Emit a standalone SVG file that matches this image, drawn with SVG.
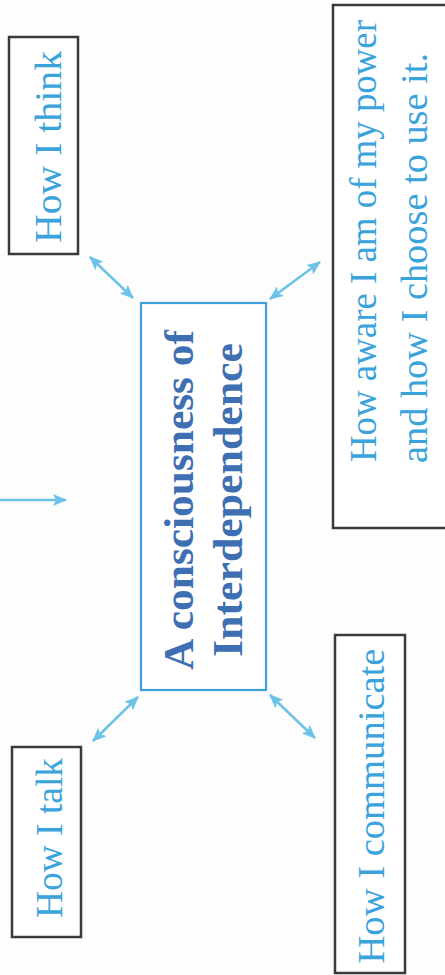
<svg xmlns="http://www.w3.org/2000/svg" width="445" height="975" viewBox="0 0 445 975">
<defs>
<marker id="ah" viewBox="0 0 14 12" refX="13" refY="6" markerWidth="14" markerHeight="12" markerUnits="userSpaceOnUse" orient="auto-start-reverse">
<path d="M0,0 L14,6 L0,12 L3,6 Z" fill="#6cc3e8"/>
</marker>
<style>
.box{fill:#fff;stroke:#3a3a3a;stroke-width:2.5}
.cbox{fill:#fff;stroke:#3d9fdc;stroke-width:2.2}
.t{font-family:"Liberation Serif","Times New Roman",serif;font-size:38px;fill:#3aa3dc}
.ct{font-family:"Liberation Serif","Times New Roman",serif;font-size:43px;font-weight:bold;fill:#3e6fb2}
.conn{stroke:#6cc3e8;stroke-width:2.5;fill:none}
</style>
</defs>
<rect width="445" height="975" fill="#fdfdfd"/>
<g id="connectors">
<line class="conn" x1="90" y1="257" x2="133" y2="298" marker-start="url(#ah)" marker-end="url(#ah)"/>
<line class="conn" x1="270" y1="299" x2="320" y2="262" marker-start="url(#ah)" marker-end="url(#ah)"/>
<line class="conn" x1="93" y1="741" x2="138" y2="697" marker-start="url(#ah)" marker-end="url(#ah)"/>
<line class="conn" x1="270" y1="695" x2="315" y2="738" marker-start="url(#ah)" marker-end="url(#ah)"/>
<line class="conn" x1="0" y1="500" x2="66" y2="500" marker-end="url(#ah)"/>
</g>
<g id="think">
<rect class="box" x="9" y="37" width="69" height="217"/>
<text class="t" transform="translate(61,147) rotate(-90)" text-anchor="middle" textLength="192" lengthAdjust="spacingAndGlyphs">How I think</text>
</g>
<g id="talk">
<rect class="box" x="12" y="747" width="69" height="190"/>
<text class="t" transform="translate(62,838) rotate(-90)" text-anchor="middle" textLength="160" lengthAdjust="spacingAndGlyphs">How I talk</text>
</g>
<g id="center">
<rect class="cbox" x="141" y="303" width="125" height="387"/>
<text class="ct" transform="translate(193,500) rotate(-90)" text-anchor="middle" textLength="340" lengthAdjust="spacingAndGlyphs">A consciousness of</text>
<text class="ct" transform="translate(242,500) rotate(-90)" text-anchor="middle" textLength="314" lengthAdjust="spacingAndGlyphs">Interdependence</text>
</g>
<g id="aware">
<rect class="box" x="333" y="5" width="130" height="523"/>
<text class="t" transform="translate(376,241) rotate(-90)" text-anchor="middle" textLength="442" lengthAdjust="spacingAndGlyphs">How aware I am of my power</text>
<text class="t" transform="translate(427,258) rotate(-90)" text-anchor="middle" textLength="410" lengthAdjust="spacingAndGlyphs">and how I choose to use it.</text>
</g>
<g id="communicate">
<rect class="box" x="335" y="635" width="70" height="338"/>
<text class="t" transform="translate(384,806) rotate(-90)" text-anchor="middle" textLength="315" lengthAdjust="spacingAndGlyphs">How I communicate</text>
</g>
</svg>
